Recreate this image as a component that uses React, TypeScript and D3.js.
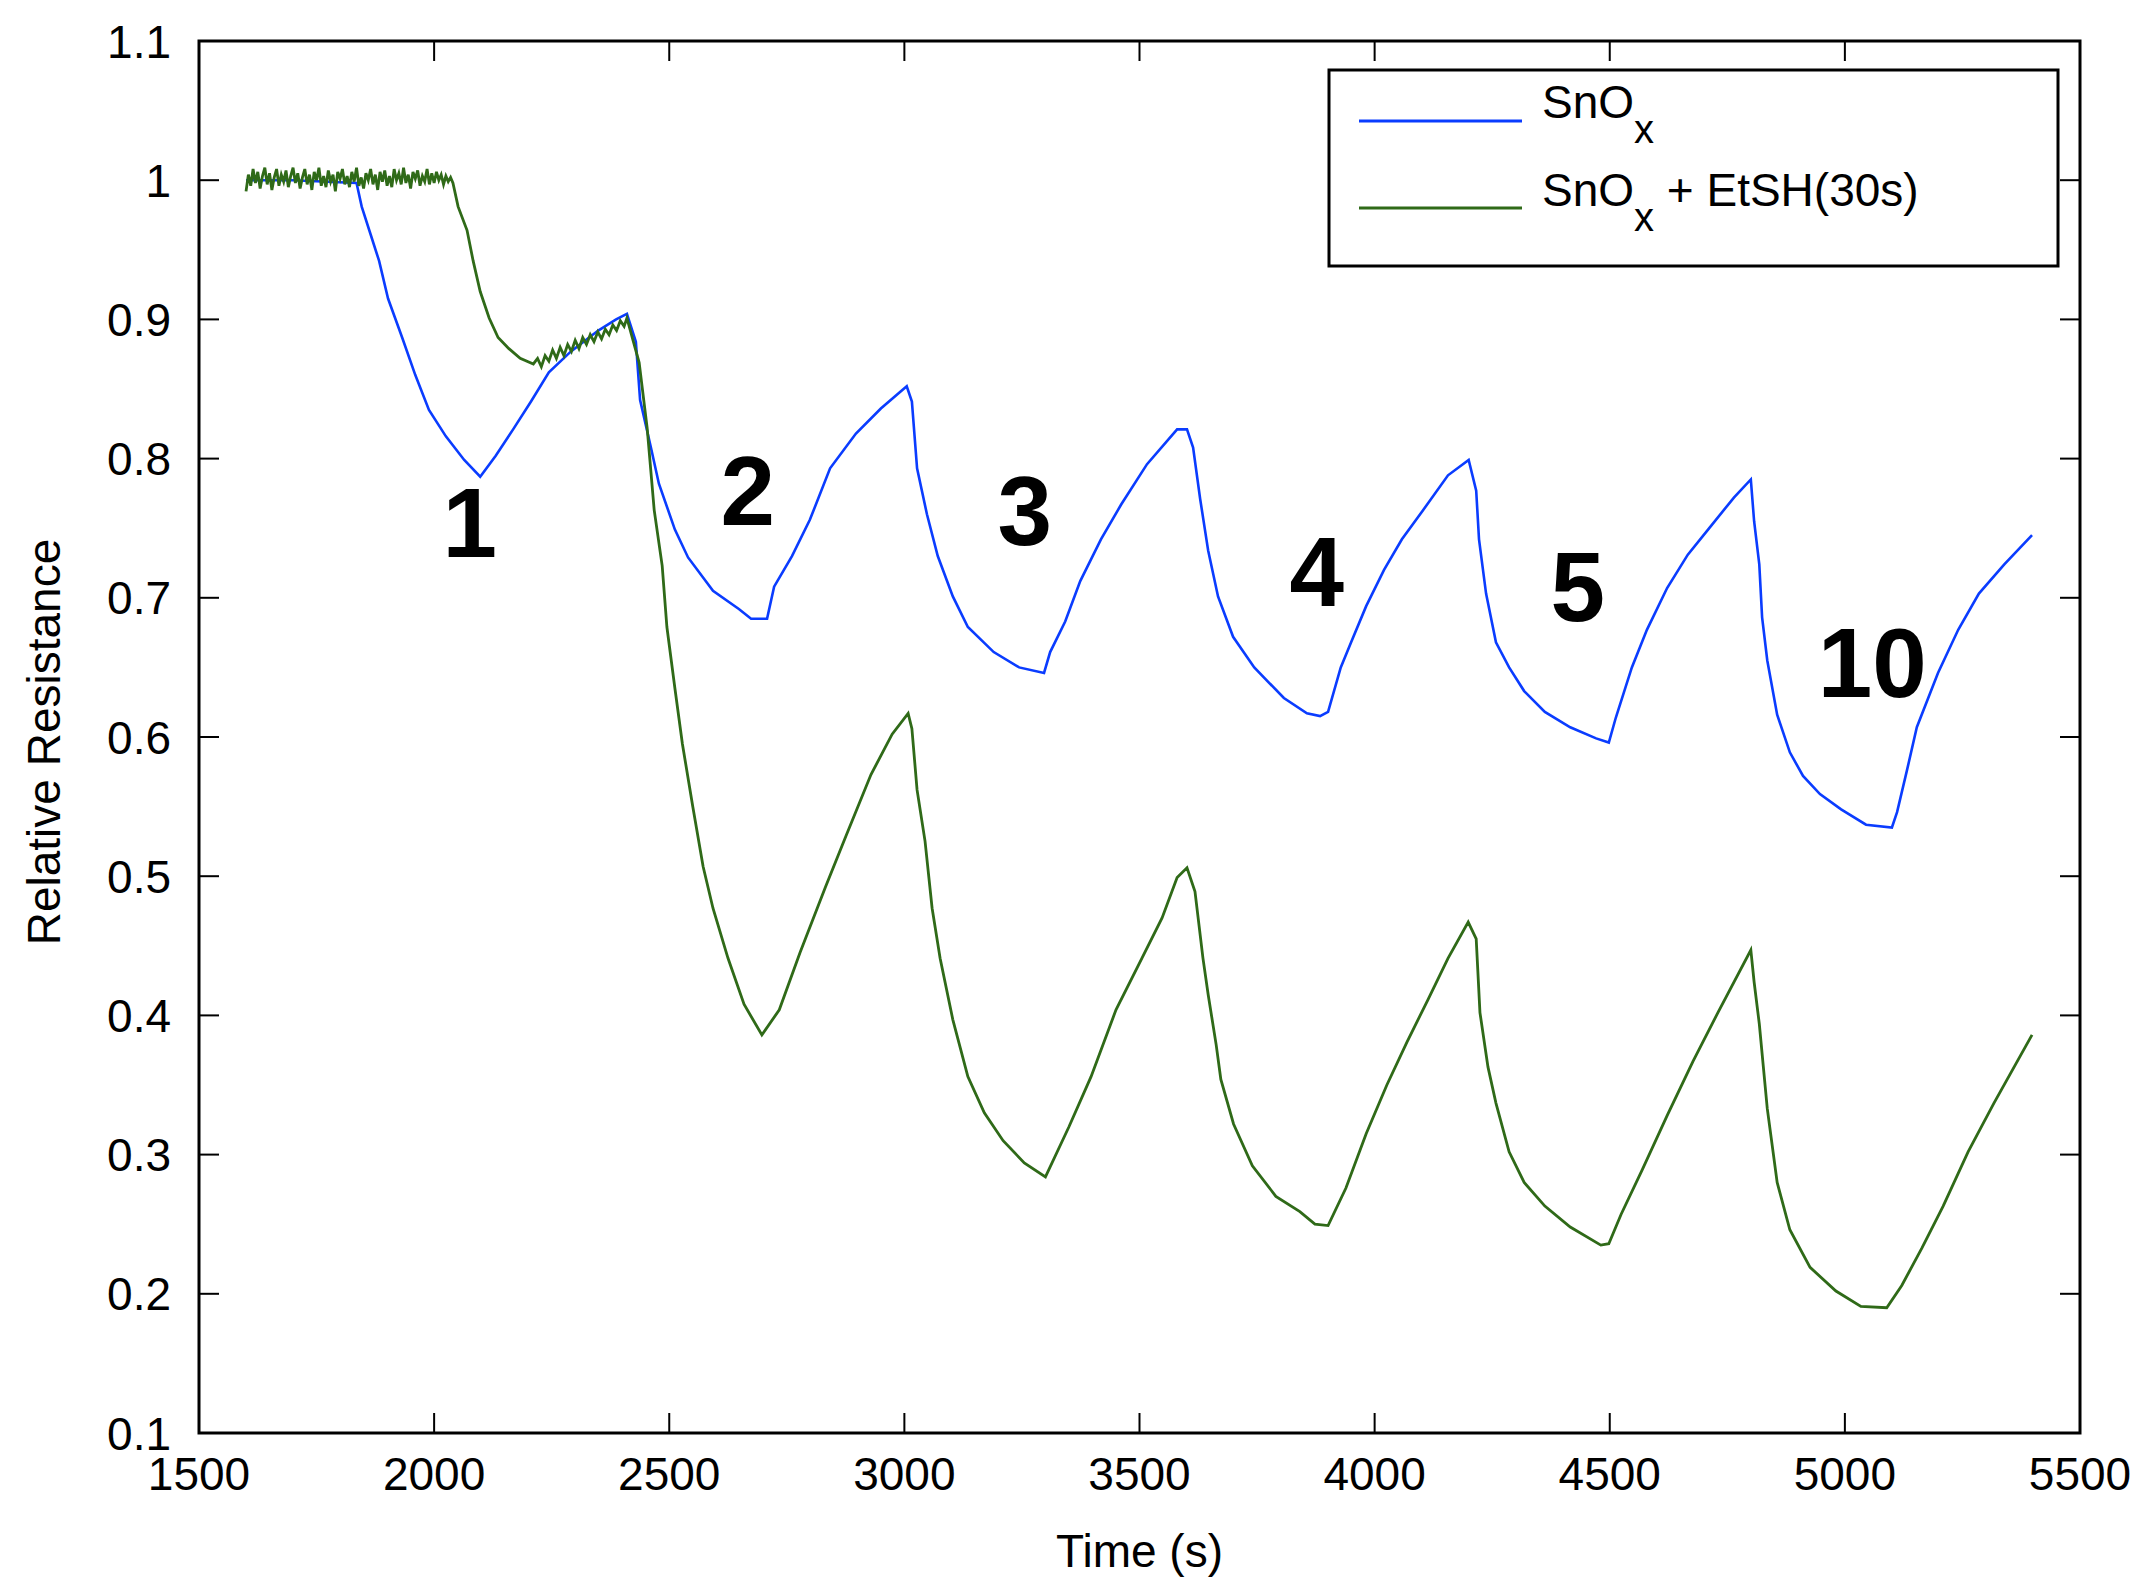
import React from "react";
import * as d3 from "d3";

// axis ticks
const xTicks = [1500, 2000, 2500, 3000, 3500, 4000, 4500, 5000, 5500];
const yTicks = [0.1, 0.2, 0.3, 0.4, 0.5, 0.6, 0.7, 0.8, 0.9, 1, 1.1];

// SnOx response, [time (s), relative resistance]
const snoxData: [number, number][] = [
  [1600, 1.0], [1700, 1.0], [1835, 0.998], [1846, 0.981], [1865, 0.961], [1883, 0.942],
  [1902, 0.915], [1932, 0.887], [1960, 0.86], [1989, 0.835], [2025, 0.816], [2064, 0.799],
  [2098, 0.787], [2131, 0.802], [2168, 0.821], [2206, 0.841], [2244, 0.862], [2291, 0.877],
  [2349, 0.892], [2387, 0.9], [2410, 0.904], [2429, 0.884], [2438, 0.842], [2461, 0.808],
  [2478, 0.782], [2512, 0.749], [2540, 0.729], [2593, 0.705], [2648, 0.692], [2674, 0.685],
  [2708, 0.685], [2723, 0.708], [2761, 0.73], [2799, 0.756], [2842, 0.793], [2897, 0.818],
  [2950, 0.836], [3005, 0.852], [3016, 0.841], [3027, 0.793], [3048, 0.76], [3071, 0.73],
  [3103, 0.701], [3135, 0.679], [3190, 0.661], [3244, 0.65], [3297, 0.646], [3310, 0.661],
  [3342, 0.683], [3374, 0.712], [3418, 0.742], [3461, 0.767], [3516, 0.796], [3580, 0.821],
  [3601, 0.821], [3614, 0.808], [3629, 0.771], [3646, 0.734], [3667, 0.701], [3699, 0.672],
  [3744, 0.65], [3807, 0.628], [3856, 0.617], [3884, 0.615], [3901, 0.618], [3928, 0.65],
  [3950, 0.668], [3982, 0.694], [4020, 0.72], [4058, 0.742], [4101, 0.762], [4156, 0.788],
  [4200, 0.799], [4216, 0.777], [4222, 0.742], [4237, 0.703], [4258, 0.668], [4286, 0.65],
  [4318, 0.633], [4362, 0.618], [4416, 0.607], [4471, 0.599], [4498, 0.596], [4513, 0.614],
  [4547, 0.65], [4579, 0.677], [4622, 0.707], [4666, 0.731], [4709, 0.749], [4764, 0.772],
  [4800, 0.785], [4807, 0.755], [4818, 0.724], [4824, 0.686], [4835, 0.655], [4856, 0.616],
  [4883, 0.589], [4911, 0.572], [4947, 0.559], [4992, 0.548], [5045, 0.537], [5100, 0.535],
  [5111, 0.546], [5132, 0.576], [5153, 0.607], [5198, 0.646], [5241, 0.677], [5285, 0.703],
  [5339, 0.724], [5398, 0.745],
];

// noisy baseline of the EtSH treated sample, sampled every 5 s from 1600 s
const etshBaselineStart = 1600;
const etshBaselineStep = 5;
const etshBaseline = [
  0.992, 1.004, 0.996, 1.008, 0.998, 1.006, 0.994, 1.003, 1.009, 0.997,
  1.005, 0.993, 1.002, 1.008, 0.996, 1.004, 0.999, 1.007, 0.995, 1.003,
  1.009, 0.998, 1.005, 0.994, 1.002, 1.008, 0.997, 1.004, 0.993, 1.006,
  1.0, 1.009, 0.996, 1.003, 0.995, 1.007, 0.999, 1.004, 0.992, 1.006,
  1.001, 1.008, 0.997, 1.003, 0.995, 1.006, 0.999, 1.009, 0.996, 1.002,
  0.994, 1.005, 1.0, 1.008, 0.997, 1.004, 0.993, 1.006, 0.999, 1.007,
  0.996, 1.003, 0.995, 1.008, 1.0, 1.005, 0.997, 1.009, 0.998, 1.004,
  0.994, 1.006, 1.001, 1.007, 0.996, 1.003, 0.999, 1.008, 0.997, 1.005,
  0.998, 1.006, 1.0, 1.004, 0.997, 1.003, 0.999, 1.002, 0.998,
];

// rest of the SnOx + EtSH(30s) response
const etshData: [number, number][] = [
  [2051, 0.981], [2070, 0.964], [2083, 0.942], [2098, 0.92], [2117, 0.901], [2136, 0.887],
  [2159, 0.879], [2183, 0.872], [2211, 0.868], [2220, 0.872], [2228, 0.866], [2236, 0.874],
  [2244, 0.87], [2252, 0.878], [2260, 0.872], [2268, 0.88], [2276, 0.874], [2284, 0.882],
  [2292, 0.877], [2300, 0.885], [2308, 0.879], [2316, 0.887], [2324, 0.882], [2332, 0.889],
  [2340, 0.884], [2348, 0.891], [2356, 0.886], [2364, 0.893], [2372, 0.889], [2380, 0.896],
  [2388, 0.892], [2396, 0.899], [2404, 0.895], [2410, 0.901], [2436, 0.869], [2453, 0.822],
  [2468, 0.763], [2485, 0.723], [2495, 0.679], [2512, 0.635], [2528, 0.595], [2550, 0.55],
  [2572, 0.507], [2593, 0.477], [2625, 0.441], [2659, 0.408], [2697, 0.386], [2734, 0.404],
  [2778, 0.445], [2832, 0.492], [2876, 0.529], [2929, 0.573], [2974, 0.602], [3008, 0.617],
  [3016, 0.606], [3027, 0.562], [3044, 0.525], [3059, 0.477], [3076, 0.441], [3103, 0.397],
  [3135, 0.356], [3170, 0.33], [3210, 0.31], [3255, 0.294], [3300, 0.284], [3350, 0.32],
  [3397, 0.356], [3450, 0.404], [3505, 0.441], [3548, 0.47], [3580, 0.499], [3601, 0.506],
  [3618, 0.489], [3635, 0.441], [3646, 0.415], [3663, 0.379], [3673, 0.354], [3700, 0.322],
  [3740, 0.292], [3790, 0.27], [3841, 0.259], [3873, 0.25], [3901, 0.249], [3939, 0.276],
  [3982, 0.315], [4026, 0.35], [4069, 0.381], [4113, 0.411], [4156, 0.441], [4199, 0.467],
  [4216, 0.455], [4224, 0.402], [4241, 0.363], [4258, 0.337], [4286, 0.302], [4318, 0.28],
  [4362, 0.263], [4416, 0.248], [4481, 0.235], [4498, 0.236], [4524, 0.257], [4569, 0.289],
  [4622, 0.328], [4677, 0.367], [4730, 0.402], [4800, 0.447], [4807, 0.424], [4818, 0.394],
  [4835, 0.333], [4856, 0.28], [4883, 0.246], [4926, 0.219], [4981, 0.202], [5034, 0.191],
  [5089, 0.19], [5121, 0.206], [5164, 0.233], [5209, 0.263], [5262, 0.302], [5317, 0.337],
  [5398, 0.386],
];

// exposure cycle numbers, placed at [time, value] of the text baseline
const cycleLabels: { text: string; t: number; v: number }[] = [
  { text: "1", t: 2076, v: 0.729 },
  { text: "2", t: 2667, v: 0.752 },
  { text: "3", t: 3256, v: 0.738 },
  { text: "4", t: 3877, v: 0.694 },
  { text: "5", t: 4432, v: 0.683 },
  { text: "10", t: 5058, v: 0.629 },
];

const WIDTH = 2136;
const HEIGHT = 1585;
const margin = { top: 41, right: 56, bottom: 152, left: 199 };
const BLUE = "#0a3cff";
const GREEN = "#2f6a18";
const FONT = "'Liberation Sans', Arial, sans-serif";

export default function App() {
  const x = d3
    .scaleLinear()
    .domain([1500, 5500])
    .range([margin.left, WIDTH - margin.right]);
  const y = d3
    .scaleLinear()
    .domain([0.1, 1.1])
    .range([HEIGHT - margin.bottom, margin.top]);

  const line = d3
    .line<[number, number]>()
    .x((d) => x(d[0]))
    .y((d) => y(d[1]));

  const etshAll: [number, number][] = [
    ...etshBaseline.map(
      (v, i) => [etshBaselineStart + i * etshBaselineStep, v] as [number, number]
    ),
    ...etshData,
  ];

  const x0 = x.range()[0];
  const x1 = x.range()[1];
  const y0 = y.range()[0];
  const y1 = y.range()[1];
  const tickLen = 20;

  // legend box
  const lg = { x: 1329, y: 70, w: 729, h: 196 };

  return (
    <div style={{ position: "absolute", left: 0, top: 0 }}>
      <svg width={WIDTH} height={HEIGHT} style={{ display: "block", background: "white" }}>
        <rect x={0} y={0} width={WIDTH} height={HEIGHT} fill="white" />

        {/* curves */}
        <path d={line(snoxData) || ""} fill="none" stroke={BLUE} strokeWidth={2.6} />
        <path d={line(etshAll) || ""} fill="none" stroke={GREEN} strokeWidth={2.8} />

        {/* x ticks, top and bottom */}
        {xTicks.map((t) => (
          <g key={"x" + t}>
            <line x1={x(t)} x2={x(t)} y1={y0} y2={y0 - tickLen} stroke="black" strokeWidth={2} />
            <line x1={x(t)} x2={x(t)} y1={y1} y2={y1 + tickLen} stroke="black" strokeWidth={2} />
            <text
              x={x(t)}
              y={y0 + 57}
              textAnchor="middle"
              fontFamily={FONT}
              fontSize={46}
            >
              {t}
            </text>
          </g>
        ))}

        {/* y ticks, left and right */}
        {yTicks.map((t) => (
          <g key={"y" + t}>
            <line x1={x0} x2={x0 + tickLen} y1={y(t)} y2={y(t)} stroke="black" strokeWidth={2} />
            <line x1={x1} x2={x1 - tickLen} y1={y(t)} y2={y(t)} stroke="black" strokeWidth={2} />
            <text
              x={x0 - 28}
              y={y(t)}
              dy="0.36em"
              textAnchor="end"
              fontFamily={FONT}
              fontSize={46}
            >
              {d3.format("~g")(t)}
            </text>
          </g>
        ))}

        {/* frame */}
        <rect
          x={x0}
          y={y1}
          width={x1 - x0}
          height={y0 - y1}
          fill="none"
          stroke="black"
          strokeWidth={3}
        />

        {/* axis titles */}
        <text
          x={(x0 + x1) / 2}
          y={y0 + 134}
          textAnchor="middle"
          fontFamily={FONT}
          fontSize={46}
        >
          Time (s)
        </text>
        <text
          transform={`translate(60, ${(y0 + y1) / 2 + 5}) rotate(-90)`}
          textAnchor="middle"
          fontFamily={FONT}
          fontSize={46}
        >
          Relative Resistance
        </text>

        {/* cycle numbers */}
        {cycleLabels.map((c) => (
          <text
            key={c.text}
            x={x(c.t)}
            y={y(c.v)}
            textAnchor="middle"
            fontFamily={FONT}
            fontWeight="bold"
            fontSize={98}
          >
            {c.text}
          </text>
        ))}

        {/* legend */}
        <rect
          x={lg.x}
          y={lg.y}
          width={lg.w}
          height={lg.h}
          fill="white"
          stroke="black"
          strokeWidth={3}
        />
        <line x1={1359} x2={1522} y1={121} y2={121} stroke={BLUE} strokeWidth={3} />
        <line x1={1359} x2={1522} y1={208} y2={208} stroke={GREEN} strokeWidth={3} />
        <text x={1542} y={118} fontFamily={FONT} fontSize={46}>
          SnO
          <tspan dy={25} fontSize={40}>x</tspan>
        </text>
        <text x={1542} y={206} fontFamily={FONT} fontSize={46}>
          SnO
          <tspan dy={25} fontSize={40}>x</tspan>
          <tspan dy={-25}> + EtSH(30s)</tspan>
        </text>
      </svg>
    </div>
  );
}
